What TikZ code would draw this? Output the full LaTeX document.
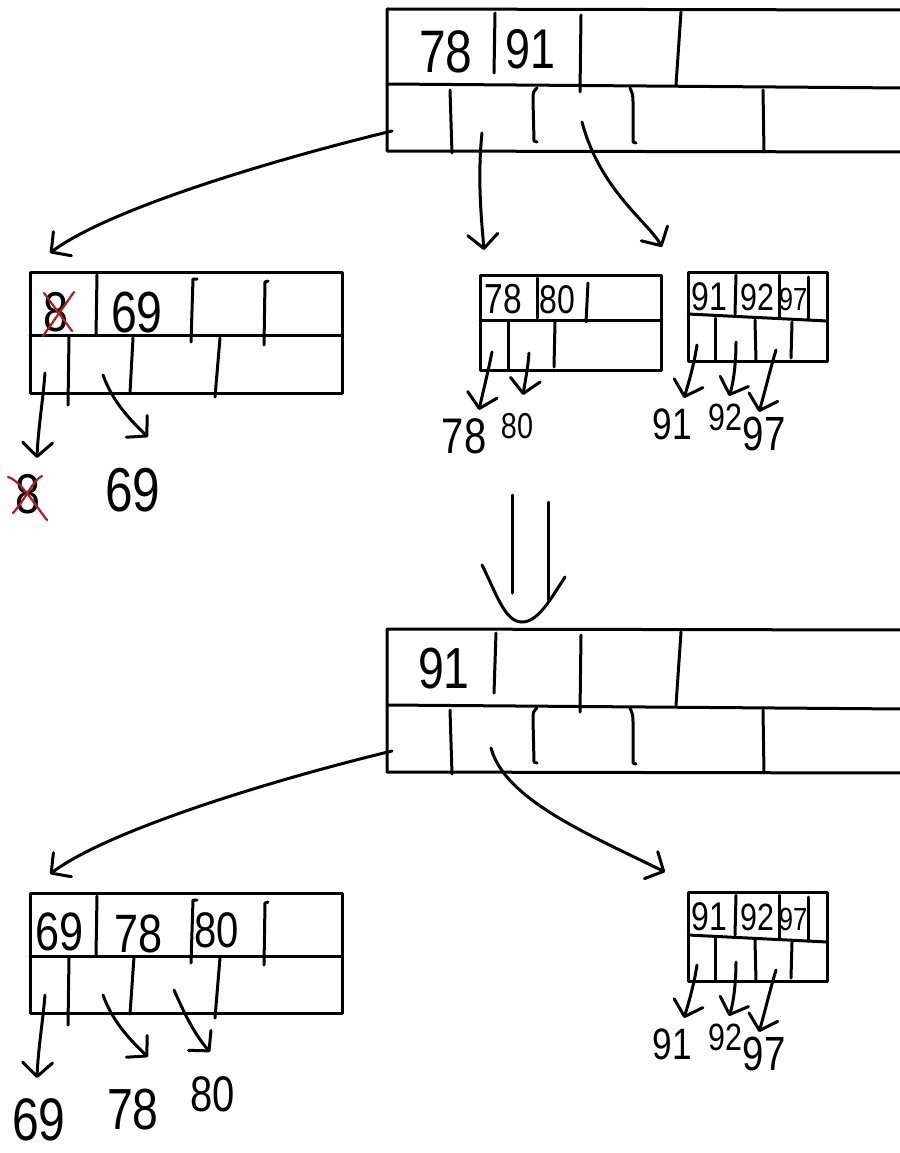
\documentclass[tikz,border=0pt]{standalone}
\usepackage{fontspec}
\usetikzlibrary{arrows.meta}
\newfontfamily\hw[FakeStretch=0.8]{Liberation Sans}
\definecolor{penred}{RGB}{185,25,35}
\tikzset{
  pen/.style={line width=3pt, line cap=round, line join=round, black},
  redpen/.style={line width=2.2pt, line cap=round, line join=round, penred},
  harrow/.style={pen, -{Straight Barb[length=14pt,width=30pt,line width=3pt,round]}},
  dg/.style={inner sep=0pt, font=\hw\fontsize{#1pt}{#1pt}\selectfont}
}
\begin{document}
\begin{tikzpicture}[x=1pt,y=-1pt]
\useasboundingbox (0,0) rectangle (899,1153);
\fill[white] (0,0) rectangle (899,1153);

% ================= TOP ROOT =================
\draw[pen] (905,10) -- (387,9) -- (387,151) -- (905,152);
\draw[pen] (387,84) -- (905,88);
\draw[pen] (495,13) -- (494,73);
\draw[pen] (581,15) -- (580,92);
\draw[pen] (681,12) -- (676,85);
\draw[pen] (450,90) -- (452,153);
\draw[pen] (537,88) .. controls (533,92) .. (533,100) -- (534,141) -- (537,142);
\draw[pen] (630,88) .. controls (633,95) .. (633,105) -- (633,142) -- (636,143);
\draw[pen] (763,90) -- (764,152);
\node[dg=60] (r78) at (446,52) {78};
\node[dg=56] (r91) at (530,49) {91};

\coordinate (sA1) at (392,131);
\coordinate (tA1) at (50,253);
\coordinate (sA2) at (482,133);
\coordinate (tA2) at (484,250);
\coordinate (sA3) at (582,122);
\coordinate (tA3) at (662,247);
\draw[harrow] (sA1) .. controls (280,158) and (110,208) .. (tA1);
\draw[harrow] (sA2) .. controls (477,180) and (482,225) .. (tA2);
\draw[harrow] (sA3) .. controls (600,190) and (648,222) .. (tA3);

% ================= LEFT CHILD (top) =================
\draw[pen] (30,272) rectangle (342,393);
\draw[pen] (30,335) -- (342,335);
\draw[pen] (97,275) -- (96,335);
\draw[pen] (197,279) -- (193,279) -- (191,342);
\draw[pen] (268,281) -- (265,282) -- (264,345);
\draw[pen] (69,336) -- (68,405);
\draw[pen] (133,338) -- (130,393);
\draw[pen] (220,338) -- (215,397);
\node[dg=56] (l8) at (56,312) {8};
\draw[redpen] (43,336) -- (74,292);
\draw[redpen] (44,293) -- (72,331);
\node[dg=58] (l69) at (137,313) {69};

\coordinate (sC1) at (45,373);
\coordinate (tC1) at (37,458);
\coordinate (sC2) at (103,375);
\coordinate (tC2) at (148,437);
\draw[harrow] (sC1) .. controls (43,400) and (38,430) .. (tC1);
\draw[harrow] (sC2) .. controls (112,400) and (128,418) .. (tC2);
\node[dg=56] (lab8) at (28,494) {8};
\draw[redpen] (8,477) .. controls (20,480) and (35,505) .. (47,520);
\draw[redpen] (13,513) .. controls (25,500) and (33,480) .. (42,476);
\node[dg=62] (lab69) at (133,490) {69};

% ================= MIDDLE CHILD 78|80 =================
\draw[pen] (480,275) rectangle (661,370);
\draw[pen] (480,320) -- (661,320);
\draw[pen] (537,278) -- (537,318);
\draw[pen] (588,283) -- (586,322);
\draw[pen] (508,322) -- (508,370);
\draw[pen] (555,322) -- (554,367);
\node[dg=42] (m78) at (503,299) {78};
\node[dg=40] (m80) at (557,300) {80};
\coordinate (sD1) at (492,352);
\coordinate (tD1) at (479,410);
\coordinate (sD2) at (529,353);
\coordinate (tD2) at (523,395);
\draw[harrow] (sD1) .. controls (488,372) and (483,392) .. (tD1);
\draw[harrow] (sD2) .. controls (528,368) and (525,382) .. (tD2);
\node[dg=50] (labm78) at (464,436) {78};
\node[dg=36] (labm80) at (517,426) {80};

% ================= RIGHT CHILD 91|92|97 (top) =================
\draw[pen] (688,272) rectangle (827,361);
\draw[pen] (688,314) -- (827,321);
\draw[pen] (736,275) -- (735,314);
\draw[pen] (779,275) -- (779,318);
\draw[pen] (808,277) -- (808,320);
\draw[pen] (715,318) -- (715,360);
\draw[pen] (755,320) -- (756,361);
\draw[pen] (792,322) -- (791,358);
\node[dg=40] (q91) at (709,297) {91};
\node[dg=38] (q92) at (757,297) {92};
\node[dg=32] (q97) at (793,299) {97};
\coordinate (sE1) at (697,345);
\coordinate (tE1) at (684,398);
\coordinate (sE2) at (736,342);
\coordinate (tE2) at (729,396);
\coordinate (sE3) at (776,350);
\coordinate (tE3) at (759,412);
\draw[harrow] (sE1) .. controls (694,365) and (688,385) .. (tE1);
\draw[harrow] (sE2) .. controls (736,365) and (733,385) .. (tE2);
\draw[harrow] (sE3) .. controls (770,370) and (764,395) .. (tE3);
\node[dg=44] (labq91) at (672,424) {91};
\node[dg=38] (labq92) at (725,417) {92};
\node[dg=48] (labq97) at (764,434) {97};

% ================= BIG DOWN ARROW =================
\draw[pen] (512,495) -- (512,593);
\draw[pen] (548,502) -- (548,600);
\draw[pen] (482,565) .. controls (497,595) and (505,622) .. (522,622)
               .. controls (538,622) and (550,600) .. (565,577);

% ================= BOTTOM ROOT =================
\draw[pen] (905,630) -- (387,629) -- (387,772) -- (905,773);
\draw[pen] (387,705) -- (905,709);
\draw[pen] (496,633) -- (494,693);
\draw[pen] (581,635) -- (580,712);
\draw[pen] (681,632) -- (676,705);
\draw[pen] (450,710) -- (452,774);
\draw[pen] (537,708) .. controls (533,712) .. (533,720) -- (534,762) -- (537,763);
\draw[pen] (630,708) .. controls (633,715) .. (633,725) -- (633,763) -- (636,764);
\draw[pen] (763,710) -- (764,773);
\node[dg=58] (b91) at (444,669) {91};

\coordinate (sB1) at (392,751);
\coordinate (tB1) at (50,874);
\coordinate (sB2) at (491,748);
\coordinate (tB2) at (665,872);
\draw[harrow] (sB1) .. controls (280,778) and (110,829) .. (tB1);
\draw[harrow] (sB2) .. controls (505,800) and (590,835) .. (tB2);

% ================= BOTTOM LEFT CHILD =================
\draw[pen] (30,893) rectangle (342,1013);
\draw[pen] (30,956) -- (342,956);
\draw[pen] (97,896) -- (96,955);
\draw[pen] (197,900) -- (193,900) -- (191,963);
\draw[pen] (268,902) -- (265,903) -- (264,965);
\draw[pen] (69,957) -- (68,1025);
\draw[pen] (134,957) -- (130,1014);
\draw[pen] (220,958) -- (215,1018);
\node[dg=54] (n69) at (60,932) {69};
\node[dg=54] (n78) at (139,934) {78};
\node[dg=50] (n80) at (217,930) {80};
\coordinate (sF1) at (45,995);
\coordinate (tF1) at (37,1078);
\coordinate (sF2) at (103,995);
\coordinate (tF2) at (148,1057);
\coordinate (sF3) at (174,990);
\coordinate (tF3) at (210,1052);
\draw[harrow] (sF1) .. controls (43,1020) and (38,1050) .. (tF1);
\draw[harrow] (sF2) .. controls (112,1020) and (128,1038) .. (tF2);
\draw[harrow] (sF3) .. controls (185,1015) and (195,1035) .. (tF3);
\node[dg=60] (labn69) at (39,1120) {69};
\node[dg=58] (labn78) at (133,1110) {78};
\node[dg=50] (labn80) at (213,1094) {80};

% ================= BOTTOM RIGHT CHILD =================
\draw[pen] (688,892) rectangle (827,981);
\draw[pen] (688,935) -- (827,942);
\draw[pen] (736,895) -- (735,935);
\draw[pen] (779,895) -- (779,939);
\draw[pen] (808,897) -- (808,941);
\draw[pen] (715,938) -- (715,980);
\draw[pen] (755,940) -- (756,981);
\draw[pen] (792,942) -- (791,978);
\node[dg=40] (p91) at (709,917) {91};
\node[dg=38] (p92) at (757,917) {92};
\node[dg=32] (p97) at (793,919) {97};
\coordinate (sG1) at (697,965);
\coordinate (tG1) at (684,1018);
\coordinate (sG2) at (736,962);
\coordinate (tG2) at (729,1016);
\coordinate (sG3) at (776,970);
\coordinate (tG3) at (759,1032);
\draw[harrow] (sG1) .. controls (694,985) and (688,1005) .. (tG1);
\draw[harrow] (sG2) .. controls (736,985) and (733,1005) .. (tG2);
\draw[harrow] (sG3) .. controls (770,990) and (764,1015) .. (tG3);
\node[dg=44] (labp91) at (672,1044) {91};
\node[dg=38] (labp92) at (725,1037) {92};
\node[dg=48] (labp97) at (764,1054) {97};
\end{tikzpicture}
\end{document}
